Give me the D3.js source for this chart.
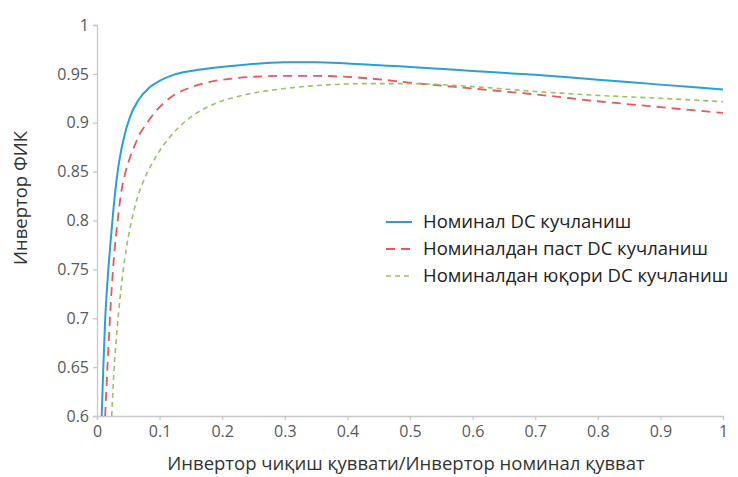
<!DOCTYPE html>
<html>
<head>
<meta charset="utf-8">
<script src="https://cdn.jsdelivr.net/npm/d3@7"></script>
<style>
  body { margin: 0; background: #fff; }
  svg text { font-family: "Open Sans", "Noto Sans", sans-serif; }
</style>
</head>
<body>
<svg id="chart" width="738" height="477"></svg>
<script>
// Inverter efficiency vs. relative output power, three DC voltage levels
const nominalX = [0.0075, 0.010, 0.0128, 0.017, 0.021, 0.026, 0.033, 0.042, 0.0527, 0.066, 0.082, 0.1006, 0.122, 0.150, 0.183, 0.240, 0.300, 0.350, 0.400, 0.500, 0.600, 0.700, 0.800, 0.900, 1.000];
const nominalY = [0.600, 0.648, 0.695, 0.740, 0.773, 0.810, 0.850, 0.882, 0.906, 0.923, 0.935, 0.943, 0.949, 0.953, 0.956, 0.9597, 0.9618, 0.962, 0.9607, 0.957, 0.953, 0.949, 0.944, 0.939, 0.934];

const lowX = [0.013, 0.018, 0.022, 0.027, 0.033, 0.039, 0.045, 0.053, 0.061, 0.0687, 0.077, 0.093, 0.119, 0.151, 0.186, 0.220, 0.266, 0.300, 0.346, 0.400, 0.441, 0.500, 0.600, 0.700, 0.800, 0.900, 1.000];
const lowY = [0.600, 0.667, 0.715, 0.762, 0.800, 0.830, 0.848, 0.865, 0.878, 0.889, 0.897, 0.911, 0.9265, 0.9365, 0.9425, 0.9455, 0.9475, 0.948, 0.948, 0.947, 0.945, 0.941, 0.935, 0.929, 0.922, 0.916, 0.910];

const highX = [0.0235, 0.027, 0.031, 0.038, 0.046, 0.055, 0.063, 0.074, 0.095, 0.130, 0.157, 0.183, 0.239, 0.300, 0.350, 0.425, 0.500, 0.600, 0.700, 0.800, 0.900, 1.000];
const highY = [0.600, 0.645, 0.680, 0.728, 0.768, 0.799, 0.820, 0.840, 0.866, 0.895, 0.909, 0.918, 0.929, 0.935, 0.938, 0.940, 0.940, 0.937, 0.932, 0.928, 0.925, 0.9215];

const seriesNames = ["Номинал DC кучланиш", "Номиналдан паст DC кучланиш", "Номиналдан юқори DC кучланиш"];
const xTicks = [0, 0.1, 0.2, 0.3, 0.4, 0.5, 0.6, 0.7, 0.8, 0.9, 1];
const yTicks = [0.6, 0.65, 0.7, 0.75, 0.8, 0.85, 0.9, 0.95, 1];
const xTitle = "Инвертор чиқиш қуввати/Инвертор номинал қувват";
const yTitle = "Инвертор ФИК";

const svg = d3.select("#chart");
const margin = { left: 97, right: 15, top: 25, bottom: 61 };
const W = 738, H = 477;

const x = d3.scaleLinear().domain([0, 1]).range([margin.left, W - margin.right]);
const y = d3.scaleLinear().domain([0.6, 1]).range([H - margin.bottom, margin.top]);

const axisColor = "#c8c8c8";
const textColor = "#595959";

// axes
const xAxis = svg.append("g")
  .attr("transform", `translate(0,${y(0.6)})`)
  .call(d3.axisBottom(x).tickValues(xTicks).tickSize(4).tickPadding(6)
    .tickFormat(d => d3.format("~g")(d)));
const yAxis = svg.append("g")
  .attr("transform", `translate(${x(0)},0)`)
  .call(d3.axisLeft(y).tickValues(yTicks).tickSize(4).tickPadding(4)
    .tickFormat(d => d3.format("~g")(d)));

[xAxis, yAxis].forEach(g => {
  g.select(".domain").attr("stroke", axisColor).attr("stroke-width", 1.3);
  g.selectAll(".tick line").attr("stroke", axisColor).attr("stroke-width", 1.3);
  g.selectAll(".tick text").attr("fill", textColor).style("font-size", "16px");
});

// titles
svg.append("text")
  .attr("x", 406).attr("y", 470)
  .attr("text-anchor", "middle")
  .attr("fill", "#333").style("font-size", "18.5px")
  .text(xTitle);
svg.append("text")
  .attr("transform", "translate(27,198) rotate(-90)")
  .attr("text-anchor", "middle")
  .attr("fill", "#333").style("font-size", "18.5px")
  .text(yTitle);

// curves
svg.append("defs").append("clipPath").attr("id", "plot")
  .append("rect").attr("x", x(0)).attr("y", y(1)).attr("width", x(1) - x(0)).attr("height", y(0.6) - y(1));

const line = d3.line().x(d => x(d[0])).y(d => y(d[1])).curve(d3.curveMonotoneX);

const series = [
  { name: seriesNames[0], xs: nominalX, ys: nominalY, color: "#2a9fd6", dash: null, width: 2 },
  { name: seriesNames[1], xs: lowX, ys: lowY, color: "#e8585c", dash: "9,6", width: 1.8 },
  { name: seriesNames[2], xs: highX, ys: highY, color: "#96c464", dash: "5,4", width: 1.6 }
];

const plot = svg.append("g").attr("clip-path", "url(#plot)");
series.forEach(s => {
  plot.append("path")
    .datum(d3.zip(s.xs, s.ys))
    .attr("d", line)
    .attr("fill", "none")
    .attr("stroke", s.color)
    .attr("stroke-width", s.width)
    .attr("stroke-dasharray", s.dash);
});

// legend
const legend = svg.append("g").attr("transform", "translate(386,222)");
series.forEach((s, i) => {
  const g = legend.append("g").attr("transform", `translate(0,${i * 27})`);
  g.append("line")
    .attr("x1", 0).attr("x2", 26).attr("y1", 0).attr("y2", 0)
    .attr("stroke", s.color).attr("stroke-width", s.width)
    .attr("stroke-dasharray", s.dash);
  g.append("text")
    .attr("x", 37).attr("y", 0).attr("dy", "0.35em")
    .attr("fill", "#222").style("font-size", "18.5px")
    .text(s.name);
});
</script>
</body>
</html>
